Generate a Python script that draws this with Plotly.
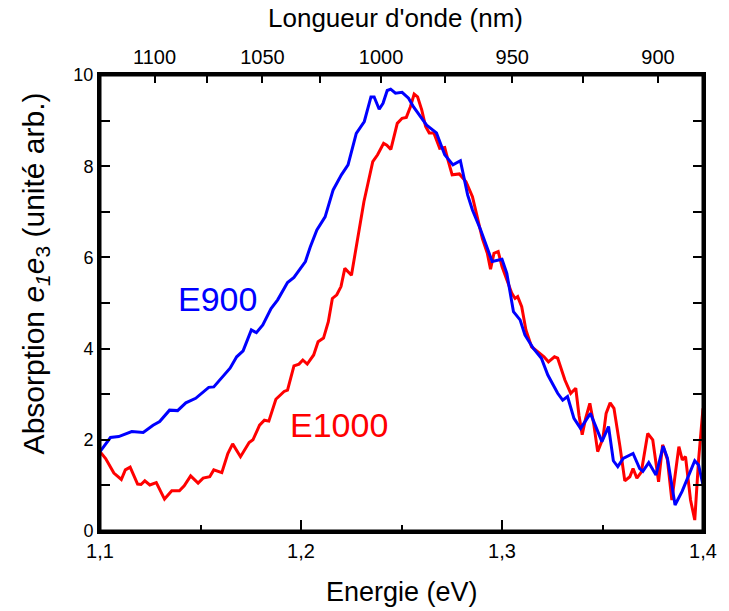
import plotly.graph_objects as go

# ---- data ----
energy_e900 = [1.1000, 1.1052, 1.1093, 1.1158, 1.1215, 1.1264, 1.1297, 1.1346, 1.1386, 1.1427,
               1.1476, 1.1541, 1.1566, 1.1598, 1.1647, 1.1680, 1.1712, 1.1753, 1.1778, 1.1810,
               1.1851, 1.1884, 1.1933, 1.1965, 1.2022, 1.2046, 1.2079, 1.2120, 1.2160, 1.2201,
               1.2234, 1.2275, 1.2315, 1.2348, 1.2364, 1.2389, 1.2408, 1.2429, 1.2446, 1.2470,
               1.2503, 1.2535, 1.2560, 1.2625, 1.2674, 1.2715, 1.2756, 1.2793, 1.2829, 1.2853,
               1.2894, 1.2951, 1.3000, 1.3024, 1.3057, 1.3090, 1.3114, 1.3155, 1.3196, 1.3228,
               1.3277, 1.3302, 1.3326, 1.3358, 1.3391, 1.3440, 1.3497, 1.3530, 1.3554, 1.3576,
               1.3603, 1.3652, 1.3685, 1.3701, 1.3730, 1.3766, 1.3802, 1.3823, 1.3861, 1.3896,
               1.3959, 1.3978, 1.4000]
absorb_e900 = [1.74, 2.05, 2.07, 2.18, 2.16, 2.32, 2.40, 2.65, 2.64, 2.81,
               2.91, 3.15, 3.16, 3.33, 3.57, 3.82, 3.95, 4.41, 4.35, 4.52,
               4.88, 5.07, 5.45, 5.56, 5.91, 6.23, 6.60, 6.89, 7.48, 7.81,
               8.03, 8.72, 8.98, 9.52, 9.52, 9.25, 9.38, 9.66, 9.69, 9.60,
               9.62, 9.49, 9.30, 8.90, 8.73, 8.25, 8.03, 8.12, 7.37, 7.04,
               6.60, 5.91, 5.96, 5.65, 4.81, 4.63, 4.30, 4.01, 3.79, 3.42,
               3.02, 2.87, 2.95, 2.47, 2.25, 2.58, 1.96, 2.29, 1.54, 1.41,
               1.59, 1.70, 1.37, 1.31, 1.50, 1.23, 1.86, 1.60, 0.57, 0.87,
               1.54, 1.45, 1.01]

energy_e1000 = [1.1000, 1.1028, 1.1069, 1.1106, 1.1126, 1.1150, 1.1187, 1.1204, 1.1223, 1.1248,
                1.1280, 1.1321, 1.1357, 1.1395, 1.1419, 1.1451, 1.1488, 1.1513, 1.1546, 1.1566,
                1.1606, 1.1636, 1.1660, 1.1699, 1.1742, 1.1761, 1.1794, 1.1818, 1.1840, 1.1875,
                1.1916, 1.1933, 1.1965, 1.1990, 1.2009, 1.2031, 1.2063, 1.2085, 1.2112, 1.2136,
                1.2156, 1.2178, 1.2199, 1.2218, 1.2251, 1.2267, 1.2292, 1.2313, 1.2333, 1.2357,
                1.2381, 1.2411, 1.2427, 1.2447, 1.2479, 1.2503, 1.2524, 1.2544, 1.2563, 1.2580,
                1.2601, 1.2620, 1.2638, 1.2661, 1.2690, 1.2715, 1.2731, 1.2752, 1.2788, 1.2821,
                1.2853, 1.2878, 1.2902, 1.2927, 1.2943, 1.2960, 1.2981, 1.3000, 1.3024, 1.3049,
                1.3065, 1.3078, 1.3098, 1.3119, 1.3147, 1.3179, 1.3209, 1.3231, 1.3261, 1.3277,
                1.3313, 1.3342, 1.3367, 1.3383, 1.3399, 1.3416, 1.3437, 1.3456, 1.3476, 1.3502,
                1.3518, 1.3538, 1.3557, 1.3587, 1.3611, 1.3636, 1.3652, 1.3671, 1.3693, 1.3725,
                1.3750, 1.3779, 1.3799, 1.3823, 1.3845, 1.3880, 1.3897, 1.3913, 1.3938, 1.3959,
                1.3978, 1.4000]
absorb_e1000 = [1.74, 1.59, 1.27, 1.13, 1.34, 1.40, 1.03, 1.02, 1.10, 1.01,
                1.06, 0.70, 0.88, 0.88, 0.99, 1.21, 1.05, 1.16, 1.19, 1.34,
                1.28, 1.70, 1.91, 1.63, 1.94, 2.00, 2.32, 2.43, 2.41, 2.89,
                3.06, 3.09, 3.62, 3.66, 3.75, 3.66, 3.86, 4.15, 4.23, 4.59,
                5.10, 5.18, 5.36, 5.76, 5.61, 6.02, 6.75, 7.22, 7.62, 8.10,
                8.25, 8.50, 8.46, 8.37, 8.94, 9.05, 9.07, 9.30, 9.58, 9.52,
                9.23, 8.87, 8.73, 8.73, 8.39, 8.41, 8.14, 7.81, 7.83, 7.66,
                7.33, 6.89, 6.42, 6.09, 5.74, 6.09, 6.13, 5.80, 5.50, 5.21,
                5.10, 5.14, 4.92, 4.41, 4.04, 3.93, 3.82, 3.71, 3.82, 3.79,
                3.31, 3.02, 3.13, 2.54, 2.11, 2.47, 2.80, 2.36, 1.74, 2.03,
                2.58, 2.81, 2.69, 1.85, 1.10, 1.19, 1.37, 1.16, 1.29, 2.14,
                2.00, 1.08, 1.89, 1.56, 0.68, 1.85, 1.56, 1.63, 0.68, 0.24,
                1.56, 2.69]

energy_ticks = [1.1, 1.2, 1.3, 1.4]
energy_ticktext = ["1,1", "1,2", "1,3", "1,4"]
abs_ticks = [0, 2, 4, 6, 8, 10]
wl_major = [1100, 1050, 1000, 950, 900]
wl_minor = [1075, 1025, 975, 925]

HC = 1239.84  # eV*nm
top_vals = [HC / w for w in wl_major] + [HC / w for w in wl_minor]
top_text = [str(w) for w in wl_major] + [" " for _ in wl_minor]

FONT = "Liberation Sans, Arial, sans-serif"

fig = go.Figure()
fig.add_trace(go.Scatter(x=energy_e1000, y=absorb_e1000, mode="lines",
                         line=dict(color="#FF0000", width=3), name="E1000"))
fig.add_trace(go.Scatter(x=energy_e900, y=absorb_e900, mode="lines",
                         line=dict(color="#0000FF", width=3), name="E900"))
# invisible helper trace so the top axis is drawn
fig.add_trace(go.Scatter(x=[1.1, 1.4], y=[0, 10], xaxis="x2", yaxis="y", mode="markers",
                         marker=dict(opacity=0), hoverinfo="skip", showlegend=False))

fig.update_layout(
    width=729, height=611,
    margin=dict(l=100, r=15, t=75, b=80),
    plot_bgcolor="#FFFFFF", paper_bgcolor="#FFFFFF",
    showlegend=False,
    font=dict(family=FONT, color="#000000"),
    xaxis=dict(range=[1.1, 1.4], tickmode="array", tickvals=energy_ticks, ticktext=energy_ticktext,
               ticks="inside", ticklen=11, tickwidth=2, tickcolor="#000000",
               showline=True, linewidth=3, linecolor="#000000", mirror=False,
               showgrid=False, zeroline=False, tickfont=dict(size=20),
               minor=dict(tick0=1.15, dtick=0.1, ticks="inside", ticklen=6, tickwidth=2,
                          tickcolor="#000000", showgrid=False)),
    yaxis=dict(range=[0, 10], tickmode="array", tickvals=abs_ticks,
               ticks="inside", ticklen=10, tickwidth=2, tickcolor="#000000",
               showline=True, linewidth=3, linecolor="#000000", mirror="allticks",
               showgrid=False, zeroline=False, tickfont=dict(size=18),
               minor=dict(tick0=0, dtick=1, ticks="inside", ticklen=5, tickwidth=2,
                          tickcolor="#000000", showgrid=False)),
    xaxis2=dict(range=[1.1, 1.4], overlaying="x", side="top", anchor="y",
                tickmode="array", tickvals=top_vals, ticktext=top_text,
                ticks="inside", ticklen=8, tickwidth=2, tickcolor="#000000",
                showline=True, linewidth=3, linecolor="#000000",
                showgrid=False, zeroline=False, tickfont=dict(size=20)),
    shapes=[dict(type="rect", xref="paper", yref="paper", x0=0, x1=1, y0=0, y1=1,
                 line=dict(color="#000000", width=3), layer="above")],
    annotations=[
        dict(text="E900", x=1.1585, y=5.09, xref="x", yref="y", showarrow=False,
             font=dict(size=34, color="#0000FF", family=FONT), xanchor="center", yanchor="middle"),
        dict(text="E1000", x=1.2187, y=2.33, xref="x", yref="y", showarrow=False,
             font=dict(size=34, color="#FF0000", family=FONT), xanchor="center", yanchor="middle"),
        dict(text="Energie (eV)", x=0.5, y=-0.134, xref="paper", yref="paper", showarrow=False,
             font=dict(size=27, family=FONT), xanchor="center", yanchor="middle"),
        dict(text="Longueur d'onde (nm)", x=0.49, y=1.125, xref="paper", yref="paper", showarrow=False,
             font=dict(size=26, family=FONT), xanchor="center", yanchor="middle"),
        dict(text="Absorption <i>e</i><sub><i>1</i></sub><i>e</i><sub>3</sub> (unité arb.)",
             x=-0.107, y=0.566, xref="paper", yref="paper", showarrow=False, textangle=-90,
             font=dict(size=30, family=FONT), xanchor="center", yanchor="middle"),
    ],
)

fig.write_html("out.html")
